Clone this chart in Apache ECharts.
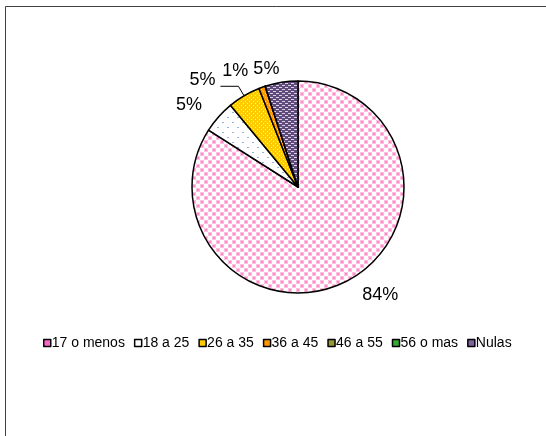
<!DOCTYPE html>
<html>
<head>
<meta charset="utf-8">
<script src="https://cdn.jsdelivr.net/npm/echarts@6/dist/echarts.min.js"></script>
<style>
html,body{margin:0;padding:0;background:#fff;}
#chart{width:546px;height:436px;}
</style>
</head>
<body>
<div id="chart"></div>
<script>
// ---- data ----
var categories = ['17 o menos', '18 a 25', '26 a 35', '36 a 45', '46 a 55', '56 o mas', 'Nulas'];
var values = [84, 5, 5, 1, 0, 0, 5];
var legendColors = ['#ff66cc', '#ffffff', '#ffcc00', '#ff9900', '#999933', '#33aa33', '#8064a2'];

// ---- patterns ----
function tile(w, h, bg, dots) {
  var c = document.createElement('canvas');
  c.width = w; c.height = h;
  var g = c.getContext('2d');
  g.fillStyle = bg; g.fillRect(0, 0, w, h);
  dots.forEach(function (d) { g.fillStyle = d[4]; g.fillRect(d[0], d[1], d[2], d[3]); });
  return { image: c, repeat: 'repeat' };
}
var patterns = [
  tile(8, 8, '#ffffff', [[0,0,4,4,'#ffbfe0'],[1,1,2,2,'#ff88c6'],[4,4,4,4,'#ffbfe0'],[5,5,2,2,'#ff88c6']]),
  tile(10, 10, '#ffffff', [[2,2,2,1,'#8fb4dd'],[7,7,2,1,'#8fb4dd']]),
  tile(4, 4, '#ffcc00', [[1,1,1,1,'#fff2b8'],[3,3,1,1,'#fff2b8']]),
  tile(4, 4, '#ff9900', [[1,1,1,1,'#ffd699'],[3,3,1,1,'#ffd699']]),
  tile(4, 4, '#999933', [[1,1,1,1,'#dddd99']]),
  tile(4, 4, '#339933', [[1,1,1,1,'#99dd99']]),
  tile(6, 4, '#604a7b', [[0,1,3,1,'#d9d2e6'],[3,3,3,1,'#d9d2e6']])
];

// label line tuning per slice (index-aligned)
var labelCfg = [
  { len: 17, len2: 0, dist: 5, showLine: false },
  { len: 18, len2: 0, dist: 3, showLine: false },
  { len: 11, len2: 18, dist: 5, showLine: true },
  { len: 17, len2: 3, dist: 5, showLine: false },
  null, null,
  { len: 13, len2: 0, dist: 0, showLine: false }
];

var data = categories.map(function (name, i) {
  var cfg = labelCfg[i];
  var item = {
    name: name,
    value: values[i],
    itemStyle: { color: patterns[i] }
  };
  if (!cfg || values[i] === 0) {
    item.label = { show: false };
    item.labelLine = { show: false };
  } else {
    item.label = { show: true, distanceToLabelLine: cfg.dist };
    item.labelLine = { show: cfg.showLine, length: cfg.len, length2: cfg.len2 };
  }
  return item;
});

var chart = echarts.init(document.getElementById('chart'), null, { renderer: 'canvas' });
chart.setOption({
  backgroundColor: '#ffffff',
  animation: false,
  graphic: [{
    type: 'rect',
    shape: { x: 5.5, y: 6.5, width: 700, height: 600 },
    style: { fill: 'none', stroke: '#404040', lineWidth: 1 },
    silent: true
  }],
  legend: {
    left: 38,
    top: 331,
    itemWidth: 7,
    itemHeight: 7,
    itemGap: 9,
    icon: 'rect',
    selectedMode: false,
    textStyle: { fontFamily: 'Liberation Sans, Arial, sans-serif', fontSize: 14, color: '#000', padding: [0, 0, 0, -4] },
    data: categories.map(function (n, i) {
      return { name: n, itemStyle: { color: legendColors[i], borderColor: '#000', borderWidth: 1.5 } };
    })
  },
  series: [{
    type: 'pie',
    center: [298, 187],
    radius: 106,
    startAngle: 90,
    clockwise: true,
    avoidLabelOverlap: false,
    stillShowZeroSum: true,
    percentPrecision: 0,
    itemStyle: { borderColor: '#000', borderWidth: 1.5 },
    label: {
      show: true,
      position: 'outside',
      formatter: '{d}%',
      fontFamily: 'Liberation Sans, Arial, sans-serif',
      fontSize: 18,
      color: '#000'
    },
    labelLine: { lineStyle: { color: '#000', width: 1 }, smooth: false },
    labelLayout: function (p) {
      return p.dataIndex === 2 ? { dy: -6 } : {};
    },
    emphasis: { disabled: true },
    data: data
  }]
});
</script>
</body>
</html>
